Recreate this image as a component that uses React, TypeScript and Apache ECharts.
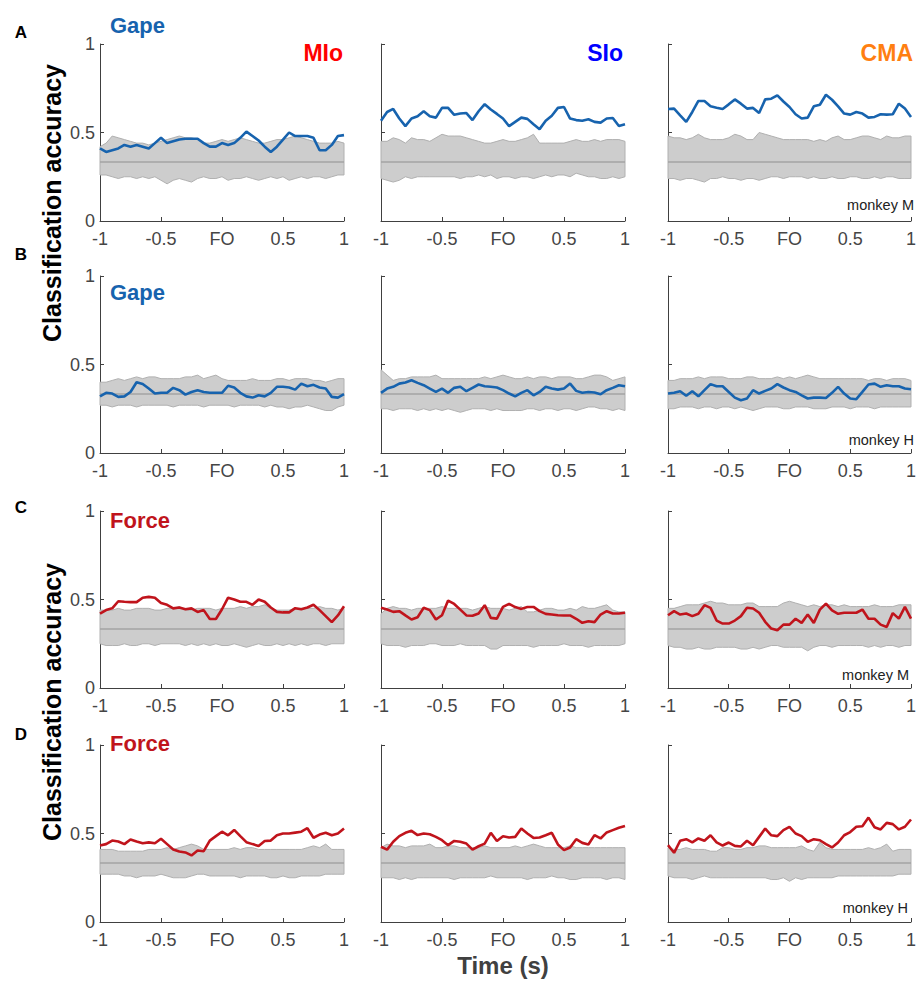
import React, { useEffect, useRef } from "react";
import * as echarts from "echarts";

// ---- data ----
const TIME = [-1, -0.95, -0.9, -0.85, -0.8, -0.75, -0.7, -0.65, -0.6, -0.55, -0.5, -0.45, -0.4, -0.35, -0.3, -0.25, -0.2, -0.15, -0.1, -0.05, 0, 0.05, 0.1, 0.15, 0.2, 0.25, 0.3, 0.35, 0.4, 0.45, 0.5, 0.55, 0.6, 0.65, 0.7, 0.75, 0.8, 0.85, 0.9, 0.95, 1];
const CHANCE_LEVEL = 1 / 3;
const ZERO_LABEL = "FO";

const AREAS = ["MIo", "SIo", "CMA"];
const ROW_FEATURES = ["Gape", "Gape", "Force", "Force"];
const ROW_MONKEYS = ["monkey M", "monkey H", "monkey M", "monkey H"];
const ROW_LETTERS = ["A", "B", "C", "D"];

// Row A: Gape, monkey M
const A_MIO_ACC = [0.41,0.39,0.40,0.41,0.43,0.42,0.43,0.42,0.41,0.44,0.47,0.44,0.45,0.46,0.465,0.465,0.465,0.44,0.42,0.42,0.44,0.43,0.44,0.47,0.505,0.48,0.455,0.42,0.39,0.42,0.46,0.50,0.48,0.48,0.48,0.47,0.40,0.40,0.43,0.48,0.485];
const A_MIO_UP = [0.42,0.44,0.48,0.47,0.46,0.45,0.44,0.44,0.43,0.44,0.45,0.46,0.47,0.48,0.47,0.47,0.46,0.44,0.44,0.45,0.46,0.45,0.46,0.47,0.46,0.45,0.44,0.44,0.45,0.46,0.46,0.47,0.48,0.47,0.46,0.45,0.44,0.44,0.44,0.45,0.44];
const A_MIO_LO = [0.26,0.26,0.25,0.24,0.25,0.25,0.24,0.25,0.24,0.25,0.23,0.21,0.23,0.24,0.23,0.22,0.24,0.25,0.24,0.24,0.25,0.23,0.24,0.24,0.25,0.24,0.23,0.24,0.25,0.24,0.25,0.23,0.24,0.25,0.24,0.25,0.25,0.24,0.25,0.26,0.26];
const A_SIO_ACC = [0.566,0.616,0.633,0.579,0.536,0.579,0.592,0.62,0.592,0.584,0.639,0.639,0.60,0.607,0.61,0.57,0.62,0.66,0.63,0.605,0.579,0.536,0.56,0.584,0.577,0.547,0.519,0.566,0.595,0.639,0.644,0.579,0.57,0.566,0.575,0.56,0.556,0.579,0.582,0.537,0.547];
const A_SIO_UP = [0.45,0.45,0.47,0.46,0.44,0.47,0.46,0.46,0.45,0.47,0.49,0.48,0.48,0.48,0.47,0.46,0.45,0.44,0.44,0.45,0.46,0.45,0.45,0.46,0.47,0.49,0.44,0.44,0.44,0.44,0.44,0.45,0.46,0.45,0.45,0.46,0.45,0.46,0.46,0.46,0.45];
const A_SIO_LO = [0.24,0.23,0.22,0.23,0.25,0.24,0.25,0.25,0.25,0.25,0.25,0.25,0.25,0.24,0.25,0.25,0.26,0.25,0.26,0.24,0.25,0.25,0.24,0.25,0.25,0.24,0.25,0.26,0.25,0.26,0.26,0.25,0.27,0.26,0.25,0.25,0.24,0.24,0.25,0.24,0.25];
const A_CMA_ACC = [0.633,0.635,0.597,0.56,0.616,0.678,0.678,0.648,0.64,0.633,0.659,0.687,0.663,0.635,0.639,0.61,0.687,0.691,0.71,0.675,0.644,0.603,0.579,0.584,0.648,0.657,0.713,0.685,0.648,0.607,0.601,0.616,0.607,0.584,0.588,0.603,0.601,0.603,0.663,0.635,0.588];
const A_CMA_UP = [0.48,0.47,0.47,0.46,0.47,0.49,0.47,0.46,0.46,0.46,0.47,0.49,0.48,0.46,0.46,0.50,0.49,0.48,0.47,0.46,0.46,0.46,0.46,0.46,0.45,0.46,0.45,0.47,0.48,0.46,0.46,0.47,0.48,0.48,0.47,0.46,0.48,0.47,0.47,0.48,0.48];
const A_CMA_LO = [0.24,0.24,0.23,0.24,0.24,0.23,0.22,0.24,0.24,0.25,0.24,0.24,0.23,0.24,0.24,0.23,0.24,0.25,0.25,0.24,0.25,0.25,0.25,0.24,0.25,0.24,0.24,0.25,0.24,0.24,0.25,0.25,0.24,0.24,0.25,0.24,0.25,0.25,0.24,0.24,0.24];

// Row B: Gape, monkey H
const B_MIO_ACC = [0.32,0.34,0.336,0.317,0.32,0.345,0.40,0.39,0.364,0.336,0.34,0.34,0.368,0.355,0.33,0.345,0.355,0.345,0.34,0.34,0.34,0.38,0.37,0.34,0.32,0.313,0.326,0.32,0.34,0.374,0.374,0.37,0.358,0.392,0.377,0.385,0.37,0.364,0.317,0.313,0.332];
const B_MIO_UP = [0.40,0.40,0.41,0.42,0.41,0.42,0.43,0.42,0.43,0.43,0.42,0.42,0.42,0.42,0.43,0.43,0.44,0.42,0.43,0.44,0.42,0.41,0.41,0.41,0.41,0.42,0.41,0.41,0.41,0.42,0.42,0.41,0.42,0.42,0.42,0.41,0.41,0.40,0.41,0.42,0.42];
const B_MIO_LO = [0.27,0.27,0.26,0.27,0.27,0.27,0.26,0.27,0.27,0.27,0.27,0.27,0.26,0.27,0.27,0.27,0.27,0.26,0.27,0.27,0.27,0.27,0.26,0.27,0.27,0.27,0.27,0.26,0.27,0.26,0.26,0.25,0.26,0.26,0.27,0.26,0.25,0.24,0.24,0.26,0.27];
const B_SIO_ACC = [0.34,0.364,0.374,0.392,0.398,0.411,0.396,0.383,0.364,0.345,0.364,0.34,0.368,0.374,0.349,0.368,0.387,0.377,0.374,0.37,0.355,0.336,0.32,0.34,0.355,0.326,0.345,0.374,0.364,0.358,0.364,0.392,0.351,0.34,0.345,0.342,0.332,0.355,0.368,0.383,0.377];
const B_SIO_UP = [0.47,0.44,0.41,0.42,0.42,0.43,0.43,0.43,0.43,0.44,0.42,0.42,0.42,0.42,0.42,0.42,0.42,0.43,0.42,0.43,0.44,0.43,0.42,0.42,0.43,0.42,0.43,0.43,0.42,0.43,0.43,0.43,0.42,0.42,0.43,0.44,0.44,0.43,0.41,0.42,0.43];
const B_SIO_LO = [0.25,0.25,0.24,0.25,0.25,0.25,0.24,0.25,0.24,0.25,0.24,0.25,0.24,0.23,0.24,0.25,0.25,0.25,0.24,0.25,0.24,0.24,0.24,0.24,0.25,0.25,0.24,0.25,0.25,0.24,0.25,0.25,0.24,0.25,0.26,0.26,0.25,0.25,0.24,0.25,0.24];
const B_CMA_ACC = [0.336,0.34,0.349,0.323,0.349,0.32,0.355,0.389,0.377,0.377,0.345,0.313,0.298,0.308,0.355,0.336,0.351,0.364,0.389,0.37,0.355,0.345,0.326,0.308,0.313,0.313,0.311,0.34,0.374,0.336,0.308,0.304,0.345,0.387,0.392,0.374,0.383,0.377,0.377,0.364,0.36];
const B_CMA_UP = [0.41,0.41,0.42,0.42,0.42,0.43,0.42,0.43,0.43,0.43,0.42,0.42,0.42,0.43,0.43,0.42,0.42,0.42,0.43,0.42,0.43,0.42,0.43,0.44,0.43,0.42,0.42,0.42,0.42,0.42,0.42,0.42,0.42,0.41,0.42,0.42,0.41,0.42,0.42,0.42,0.41];
const B_CMA_LO = [0.25,0.25,0.26,0.26,0.26,0.25,0.26,0.26,0.25,0.26,0.26,0.25,0.26,0.25,0.24,0.25,0.26,0.26,0.26,0.25,0.25,0.26,0.26,0.26,0.25,0.25,0.25,0.26,0.26,0.26,0.25,0.26,0.26,0.26,0.25,0.26,0.26,0.26,0.26,0.26,0.26];

// Row C: Force, monkey M
const C_MIO_ACC = [0.42,0.44,0.45,0.49,0.487,0.485,0.485,0.51,0.515,0.51,0.48,0.47,0.45,0.455,0.445,0.45,0.43,0.44,0.39,0.39,0.445,0.51,0.50,0.487,0.487,0.47,0.50,0.487,0.455,0.43,0.427,0.427,0.451,0.445,0.455,0.47,0.44,0.406,0.372,0.41,0.462];
const C_MIO_UP = [0.44,0.44,0.44,0.45,0.44,0.44,0.45,0.45,0.45,0.44,0.44,0.45,0.45,0.46,0.44,0.44,0.45,0.45,0.45,0.44,0.45,0.45,0.45,0.46,0.45,0.46,0.46,0.47,0.45,0.44,0.44,0.44,0.45,0.45,0.45,0.45,0.46,0.45,0.45,0.44,0.45];
const C_MIO_LO = [0.25,0.24,0.24,0.24,0.25,0.24,0.24,0.25,0.25,0.24,0.25,0.25,0.25,0.25,0.24,0.25,0.24,0.25,0.24,0.25,0.24,0.24,0.25,0.24,0.23,0.24,0.25,0.24,0.24,0.25,0.24,0.25,0.24,0.25,0.24,0.25,0.25,0.24,0.25,0.25,0.25];
const C_SIO_ACC = [0.453,0.443,0.43,0.434,0.41,0.387,0.40,0.453,0.44,0.387,0.411,0.494,0.475,0.443,0.41,0.408,0.421,0.468,0.396,0.392,0.458,0.475,0.457,0.447,0.458,0.458,0.434,0.419,0.415,0.411,0.41,0.41,0.391,0.368,0.377,0.372,0.415,0.434,0.421,0.421,0.425];
const C_SIO_UP = [0.42,0.45,0.46,0.45,0.45,0.44,0.45,0.45,0.45,0.45,0.46,0.45,0.45,0.45,0.45,0.44,0.45,0.46,0.45,0.45,0.45,0.44,0.45,0.46,0.43,0.43,0.44,0.45,0.45,0.44,0.44,0.45,0.44,0.46,0.45,0.45,0.46,0.47,0.44,0.43,0.43];
const C_SIO_LO = [0.25,0.24,0.24,0.24,0.23,0.24,0.24,0.24,0.25,0.25,0.24,0.24,0.24,0.25,0.24,0.24,0.24,0.24,0.22,0.22,0.24,0.24,0.24,0.24,0.24,0.23,0.24,0.24,0.24,0.24,0.25,0.24,0.24,0.24,0.23,0.24,0.24,0.24,0.24,0.24,0.25];
const C_CMA_ACC = [0.411,0.434,0.415,0.421,0.406,0.419,0.468,0.453,0.381,0.364,0.364,0.381,0.406,0.453,0.449,0.425,0.374,0.336,0.326,0.358,0.358,0.391,0.368,0.415,0.368,0.443,0.477,0.438,0.419,0.425,0.425,0.425,0.443,0.391,0.391,0.358,0.345,0.423,0.392,0.458,0.392];
const C_CMA_UP = [0.45,0.45,0.46,0.47,0.47,0.47,0.48,0.49,0.48,0.48,0.47,0.47,0.47,0.48,0.48,0.46,0.46,0.46,0.46,0.48,0.49,0.48,0.47,0.46,0.47,0.46,0.47,0.47,0.46,0.47,0.46,0.46,0.46,0.46,0.47,0.46,0.46,0.46,0.47,0.47,0.47];
const C_CMA_LO = [0.24,0.23,0.23,0.22,0.22,0.23,0.22,0.22,0.23,0.23,0.23,0.23,0.22,0.22,0.23,0.22,0.23,0.24,0.24,0.23,0.23,0.23,0.23,0.21,0.23,0.24,0.24,0.23,0.24,0.24,0.24,0.24,0.24,0.23,0.24,0.23,0.24,0.24,0.23,0.24,0.24];

// Row D: Force, monkey H
const D_MIO_ACC = [0.432,0.44,0.46,0.455,0.44,0.466,0.455,0.445,0.45,0.445,0.47,0.44,0.41,0.398,0.393,0.376,0.404,0.40,0.46,0.485,0.51,0.49,0.52,0.485,0.451,0.44,0.43,0.458,0.46,0.49,0.50,0.50,0.505,0.51,0.53,0.476,0.494,0.504,0.49,0.50,0.528];
const D_MIO_UP = [0.41,0.41,0.41,0.40,0.40,0.40,0.40,0.40,0.41,0.41,0.41,0.42,0.41,0.42,0.43,0.44,0.43,0.41,0.41,0.41,0.41,0.41,0.42,0.41,0.42,0.42,0.41,0.41,0.41,0.41,0.41,0.41,0.41,0.41,0.42,0.43,0.42,0.44,0.41,0.41,0.41];
const D_MIO_LO = [0.27,0.27,0.27,0.27,0.26,0.26,0.25,0.26,0.26,0.26,0.27,0.26,0.25,0.25,0.25,0.26,0.27,0.27,0.26,0.26,0.26,0.26,0.26,0.25,0.26,0.26,0.26,0.26,0.25,0.25,0.26,0.25,0.25,0.26,0.26,0.26,0.26,0.27,0.27,0.27,0.27];
const D_SIO_ACC = [0.425,0.409,0.453,0.485,0.504,0.515,0.491,0.50,0.496,0.481,0.462,0.434,0.458,0.453,0.443,0.409,0.428,0.443,0.504,0.458,0.485,0.477,0.481,0.528,0.50,0.475,0.477,0.49,0.504,0.438,0.406,0.421,0.468,0.447,0.438,0.491,0.472,0.506,0.519,0.532,0.542];
const D_SIO_UP = [0.42,0.44,0.43,0.43,0.42,0.43,0.43,0.43,0.44,0.42,0.42,0.43,0.43,0.42,0.42,0.42,0.42,0.43,0.42,0.42,0.42,0.42,0.43,0.42,0.43,0.44,0.43,0.42,0.42,0.42,0.42,0.43,0.42,0.42,0.42,0.42,0.42,0.42,0.42,0.42,0.42];
const D_SIO_LO = [0.25,0.25,0.25,0.24,0.25,0.24,0.25,0.25,0.25,0.25,0.25,0.25,0.24,0.25,0.25,0.25,0.25,0.25,0.26,0.25,0.25,0.25,0.25,0.25,0.24,0.25,0.25,0.25,0.26,0.25,0.25,0.24,0.24,0.25,0.25,0.25,0.25,0.24,0.25,0.25,0.24];
const D_CMA_ACC = [0.434,0.391,0.459,0.468,0.45,0.472,0.459,0.49,0.45,0.432,0.449,0.43,0.427,0.459,0.434,0.481,0.528,0.49,0.485,0.519,0.538,0.50,0.485,0.453,0.468,0.462,0.44,0.421,0.449,0.49,0.508,0.538,0.541,0.59,0.535,0.523,0.56,0.553,0.523,0.538,0.579];
const D_CMA_UP = [0.42,0.41,0.41,0.42,0.41,0.41,0.41,0.40,0.40,0.42,0.42,0.41,0.41,0.42,0.42,0.43,0.43,0.42,0.42,0.42,0.42,0.42,0.43,0.41,0.40,0.45,0.42,0.41,0.41,0.41,0.41,0.41,0.41,0.42,0.41,0.42,0.44,0.40,0.41,0.41,0.41];
const D_CMA_LO = [0.26,0.25,0.25,0.25,0.24,0.25,0.26,0.25,0.25,0.25,0.25,0.25,0.25,0.25,0.25,0.25,0.25,0.24,0.24,0.25,0.23,0.25,0.24,0.25,0.25,0.25,0.25,0.25,0.26,0.26,0.26,0.26,0.26,0.26,0.26,0.26,0.26,0.26,0.27,0.27,0.27];

const PANELS = [
  [A_MIO_ACC, A_MIO_UP, A_MIO_LO], [A_SIO_ACC, A_SIO_UP, A_SIO_LO], [A_CMA_ACC, A_CMA_UP, A_CMA_LO],
  [B_MIO_ACC, B_MIO_UP, B_MIO_LO], [B_SIO_ACC, B_SIO_UP, B_SIO_LO], [B_CMA_ACC, B_CMA_UP, B_CMA_LO],
  [C_MIO_ACC, C_MIO_UP, C_MIO_LO], [C_SIO_ACC, C_SIO_UP, C_SIO_LO], [C_CMA_ACC, C_CMA_UP, C_CMA_LO],
  [D_MIO_ACC, D_MIO_UP, D_MIO_LO], [D_SIO_ACC, D_SIO_UP, D_SIO_LO], [D_CMA_ACC, D_CMA_UP, D_CMA_LO],
];

// ---- layout / style ----
const FONT = '"Liberation Sans", Arial, Helvetica, sans-serif';
const GRID_LEFT = [100, 381, 668];
const GRID_WIDTH = 244;
const GRID_TOP = [44, 276, 511, 745];
const GRID_HEIGHT = 177;
const FEATURE_COLOR: Record<string, string> = { Gape: "#1763ae", Force: "#c0141c" };
const AREA_COLOR: Record<string, string> = { MIo: "#ff0000", SIo: "#0000ff", CMA: "#ff7f11" };
const AXIS_COLOR = "#404040";
const LABEL_COLOR = "#454545";
const BAND_FILL = "#cdcdcd";
const BAND_EDGE = "#b0b0b0";

export default function App() {
  const ref = useRef<HTMLDivElement>(null);

  useEffect(() => {
    if (!ref.current) return;
    const chart = echarts.init(ref.current, undefined, { renderer: "svg" });

    const grids: any[] = [];
    const xAxes: any[] = [];
    const yAxes: any[] = [];
    const series: any[] = [];

    PANELS.forEach(([acc, up, lo], p) => {
      const row = Math.floor(p / 3);
      const col = p % 3;
      grids.push({
        left: GRID_LEFT[col],
        top: GRID_TOP[row],
        width: GRID_WIDTH,
        height: GRID_HEIGHT,
        containLabel: false,
      });
      xAxes.push({
        type: "value",
        gridIndex: p,
        min: -1,
        max: 1,
        interval: 0.5,
        axisLine: { show: true, onZero: false, lineStyle: { color: AXIS_COLOR, width: 1 } },
        axisTick: { show: true, inside: true, length: 4, lineStyle: { color: AXIS_COLOR } },
        splitLine: { show: false },
        axisLabel: {
          show: true,
          margin: 9,
          color: LABEL_COLOR,
          fontSize: 18,
          lineHeight: 18,
          fontFamily: FONT,
          showMinLabel: true,
          showMaxLabel: true,
          hideOverlap: false,
          formatter: (v: number) => (v === 0 ? ZERO_LABEL : String(v)),
        },
      });
      yAxes.push({
        type: "value",
        gridIndex: p,
        min: 0,
        max: 1,
        interval: 0.5,
        axisLine: { show: true, onZero: false, lineStyle: { color: AXIS_COLOR, width: 1 } },
        axisTick: { show: true, inside: true, length: 4, lineStyle: { color: AXIS_COLOR } },
        splitLine: { show: false },
        axisLabel: {
          show: col === 0,
          margin: 5,
          color: LABEL_COLOR,
          fontSize: 18,
          lineHeight: 16,
          fontFamily: FONT,
          showMinLabel: true,
          showMaxLabel: true,
        },
      });
      const color = FEATURE_COLOR[ROW_FEATURES[row]];
      const bandData = TIME.map((t, i) => [t, lo[i], up[i]]);
      series.push({
        type: "custom",
        xAxisIndex: p,
        yAxisIndex: p,
        data: bandData,
        encode: { x: 0, y: [1, 2] },
        silent: true,
        z: 1,
        renderItem: (params: any, api: any) => {
          if (params.dataIndex !== 0) return null;
          const top = bandData.map((d) => api.coord([d[0], d[2]]));
          const bottom = bandData.map((d) => api.coord([d[0], d[1]])).reverse();
          return {
            type: "polygon",
            shape: { points: top.concat(bottom) },
            style: { fill: BAND_FILL, stroke: BAND_EDGE, lineWidth: 1 },
          };
        },
      });
      series.push({
        type: "line",
        xAxisIndex: p,
        yAxisIndex: p,
        data: [[TIME[0], CHANCE_LEVEL], [TIME[TIME.length - 1], CHANCE_LEVEL]],
        symbol: "none",
        lineStyle: { color: "#a3a3a3", width: 1.5 },
        z: 2,
        silent: true,
      });
      series.push({
        type: "line",
        xAxisIndex: p,
        yAxisIndex: p,
        data: TIME.map((t, i) => [t, acc[i]]),
        symbol: "none",
        lineStyle: { color, width: 2.6 },
        z: 3,
        silent: true,
      });
    });

    const txt = (text: string, x: number, y: number, size: number, fill: string, bold: boolean, align: string, rotation = 0) => ({
      type: "text",
      x,
      y,
      rotation,
      silent: true,
      z: 10,
      style: {
        text,
        fill,
        font: `${bold ? "bold " : ""}${size}px ${FONT}`,
        align,
        verticalAlign: "middle",
        textAlign: align,
        textVerticalAlign: "middle",
      },
    });

    const graphics: any[] = [];
    const letterY = [32, 254, 507, 734];
    const featureY = [25, 292, 520, 743];
    const monkeyX = [914, 914, 909, 908];
    const monkeyY = [205, 440, 675, 908];
    ROW_LETTERS.forEach((l, r) => {
      graphics.push(txt(l, 21, letterY[r], 17, "#000000", true, "center"));
      graphics.push(txt(ROW_FEATURES[r], 110, featureY[r], 22, FEATURE_COLOR[ROW_FEATURES[r]], true, "left"));
      graphics.push(txt(ROW_MONKEYS[r], monkeyX[r], monkeyY[r], 14.5, "#222222", false, "right"));
    });
    const areaRight = [343, 623, 913];
    AREAS.forEach((a, c) => {
      graphics.push(txt(a, areaRight[c], 53, 23, AREA_COLOR[a], true, "right"));
    });
    graphics.push(txt("Classification accuracy", 52, 203, 25, "#000000", true, "center", Math.PI / 2));
    graphics.push(txt("Classification accuracy", 52, 702, 25, "#000000", true, "center", Math.PI / 2));
    graphics.push(txt("Time (s)", 503, 965, 24, "#404040", true, "center"));

    chart.setOption({
      animation: false,
      backgroundColor: "#ffffff",
      grid: grids,
      xAxis: xAxes,
      yAxis: yAxes,
      series,
      graphic: graphics,
    });

    return () => chart.dispose();
  }, []);

  return (
    <div
      ref={ref}
      style={{ position: "absolute", left: 0, top: 0, width: 919, height: 981, background: "#fff" }}
    />
  );
}
